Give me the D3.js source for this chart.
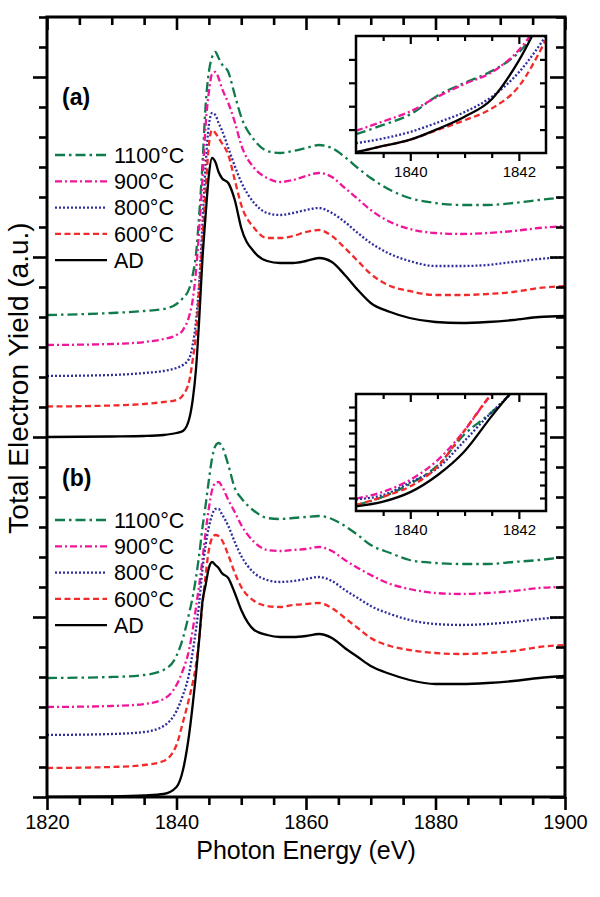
<!DOCTYPE html>
<html>
<head>
<meta charset="utf-8">
<script src="https://cdn.jsdelivr.net/npm/d3@7"></script>
<style>
  body { margin: 0; background: #fff; }
  svg text { font-family: "Liberation Sans", Arial, sans-serif; fill: #000; }
</style>
</head>
<body>
<svg id="chart" width="600" height="897"></svg>
<script>
// photon energy grid (eV)
const energy = [1820,1830,1835,1838,1840,1841,1842,1842.5,1843,1843.5,1844,1844.5,1845,1845.5,1846,1846.5,1847,1848,1849,1850,1852,1854,1856,1858,1860,1862,1864,1866,1868,1870,1873,1876,1880,1884,1888,1892,1896,1900];

// panel (a), total electron yield (a.u., offset)
const aAD   = [360,360.5,361,362,364,366,379,397,427,477,537,582,622,639,635,625,619,614,597,569,545,536,534,534,536,539,535,522,507,494,485,479,475,474,475,477,480,481];
const a600  = [390.5,391.5,393,395,397,402,417,437,462,507,557,607,652,667,664,659,654,642,617,592,569,559,559,561,565,567,561,549,536,523,511,506,502,502,503,505,509,511];
const a800  = [421,422,424,426,429,432,439,452,475,514,572,632,672,684,682,674,667,649,631,615,594,584,582,584,587,589,584,575,564,554,543,536,531,531,532,535,538,540];
const a900  = [452,453,455,458,462,467,482,497,525,567,617,672,705,723,725,719,709,694,675,652,629,619,615,617,621,624,620,609,598,587,575,568,564,563,564,566,569,571];
const a1100 = [482,484,486,488,493,499,509,522,542,582,632,692,725,740,745,739,733,725,702,680,657,646,644,646,649,652,649,640,629,619,607,599,594,592,592,594,597,600];

// panel (b)
const bAD   = [0,0.5,1.5,3,10,27,65,92,122,157,195,212,229,235,232,229,224,219,204,187,167,162,160,160,161,163,159,149,140,131,123,117,113,113,114,116,119,121];
const b600  = [29,30,32,36,52,75,100,114,132,159,192,222,247,259,262,261,257,242,224,210,196,191,190,192,193,194,189,179,169,159,151,147,144,143,144,146,150,152];
const b800  = [62,63,65,71,86,102,125,145,167,194,227,252,270,282,288,288,283,271,255,241,224,217,215,216,218,220,216,207,199,191,183,177,173,172,173,175,178,180];
const b900  = [90,91,93,98,112,127,149,167,189,212,237,265,289,307,314,315,311,297,285,272,255,247,246,247,248,250,246,237,229,222,213,208,204,203,204,206,209,210];
const b1100 = [119,120,122,127,141,159,185,200,219,242,269,292,317,339,351,354,351,332,309,299,286,279,278,279,280,281,278,271,262,252,244,237,234,233,233,235,237,240];

// inset (pre-edge zoom)
const insetEnergy = [1839,1839.5,1840,1840.5,1841,1841.5,1842,1842.5];
const iaAD   = [0.03,0.3,0.57,1.02,1.55,2.3,3.95,6.2];
const ia600  = [0.03,0.3,0.57,0.98,1.4,1.9,2.85,4.85];
const ia800  = [0.42,0.62,0.9,1.3,1.75,2.4,3.45,5.0];
const ia900  = [0.95,1.35,1.78,2.4,2.95,3.45,4.4,6.0];
const ia1100 = [0.8,1.2,1.65,2.45,3.0,3.5,4.3,5.8];
const ibAD   = [0.35,0.72,1.45,2.75,4.6,7.3,9.8,12];
const ib600  = [0.45,1.1,1.9,3.4,6.2,9.0,11,12];
const ib800  = [0.9,1.23,2.2,3.3,5.4,7.6,9.5,11];
const ib900  = [0.95,1.48,2.4,3.9,6.2,9.0,11,12];
const ib1100 = [0.45,1.1,2.1,3.5,5.9,7.6,9.6,11];

const seriesNames = ['1100°C', '900°C', '800°C', '600°C', 'AD'];
const seriesColors = ['#0f7a4a', '#f0169b', '#2e2e9e', '#f22a2a', '#000000'];
const seriesDash = ['10,4,2.5,4', '7,3,2,3', '2,2', '6,3.5', null];

const panelA = [a1100, a900, a800, a600, aAD];
const panelB = [b1100, b900, b800, b600, bAD];
const insetA = [ia1100, ia900, ia800, ia600, iaAD];
const insetB = [ib1100, ib900, ib800, ib600, ibAD];

const svg = d3.select('#chart');
const plotLeft = 47, plotRight = 565, plotTop = 17, plotBottom = 797;

const x = d3.scaleLinear().domain([1820, 1900]).range([plotLeft, plotRight]);
const y = d3.scaleLinear().domain([0, 780]).range([plotBottom, plotTop]);

svg.append('clipPath').attr('id', 'plotClip')
  .append('rect').attr('x', plotLeft).attr('y', plotTop)
  .attr('width', plotRight - plotLeft).attr('height', plotBottom - plotTop);

const line = d3.line()
  .x((d, i) => x(energy[i]))
  .y(d => y(d))
  .curve(d3.curveMonotoneX);

function drawSeries(g, list, lineGen) {
  list.forEach((vals, k) => {
    g.append('path')
      .datum(vals)
      .attr('d', lineGen)
      .attr('fill', 'none')
      .attr('stroke', seriesColors[k])
      .attr('stroke-width', 2.3)
      .attr('stroke-dasharray', seriesDash[k]);
  });
}

const curves = svg.append('g').attr('clip-path', 'url(#plotClip)');
drawSeries(curves, panelA, line);
drawSeries(curves, panelB, line);

// axes
const minorX = d3.range(1820, 1901, 5).filter(v => v % 20 !== 0);
const majorX = d3.range(1820, 1901, 20);
const minorY = d3.range(0, 781, 30).filter(v => v % 180 !== 0);
const majorY = d3.range(0, 781, 180);

function styleAxis(g) {
  g.select('.domain').remove();
  g.selectAll('line').attr('stroke', '#000').attr('stroke-width', 2.6);
  g.selectAll('text').style('font-size', '20px').attr('fill', '#000');
}

svg.append('g').attr('transform', `translate(0,${plotBottom})`)
  .call(d3.axisBottom(x).tickValues(minorX).tickSize(8).tickFormat('')).call(styleAxis);
svg.append('g').attr('transform', `translate(0,${plotBottom})`)
  .call(d3.axisBottom(x).tickValues(majorX).tickSize(13).tickPadding(5).tickFormat(d3.format('d'))).call(styleAxis);
svg.append('g').attr('transform', `translate(0,${plotTop})`)
  .call(d3.axisBottom(x).tickValues(minorX).tickSize(8).tickFormat('')).call(styleAxis);
svg.append('g').attr('transform', `translate(0,${plotTop})`)
  .call(d3.axisBottom(x).tickValues(majorX).tickSize(13).tickFormat('')).call(styleAxis);
svg.append('g').attr('transform', `translate(${plotLeft},0)`)
  .call(d3.axisLeft(y).tickValues(minorY).tickSize(8).tickFormat('')).call(styleAxis);
svg.append('g').attr('transform', `translate(${plotLeft},0)`)
  .call(d3.axisLeft(y).tickValues(majorY).tickSize(14).tickFormat('')).call(styleAxis);
svg.append('g').attr('transform', `translate(${plotRight},0)`)
  .call(d3.axisLeft(y).tickValues(minorY).tickSize(9).tickFormat('')).call(styleAxis);
svg.append('g').attr('transform', `translate(${plotRight},0)`)
  .call(d3.axisLeft(y).tickValues(majorY).tickSize(15).tickFormat('')).call(styleAxis);

svg.append('rect')
  .attr('x', plotLeft).attr('y', plotTop)
  .attr('width', plotRight - plotLeft).attr('height', plotBottom - plotTop)
  .attr('fill', 'none').attr('stroke', '#000').attr('stroke-width', 3);

// axis titles
svg.append('text')
  .attr('x', (plotLeft + plotRight) / 2).attr('y', 859)
  .attr('text-anchor', 'middle').style('font-size', '25px')
  .text('Photon Energy (eV)');
svg.append('text')
  .attr('transform', 'translate(28,378) rotate(-90)')
  .attr('text-anchor', 'middle').style('font-size', '28px')
  .text('Total Electron Yield (a.u.)');

// insets
const ix = d3.scaleLinear().domain([1839, 1842.5]).range([356, 546]);

function drawInset(id, vals, yMax, y0, y1) {
  const iy = d3.scaleLinear().domain([0, yMax]).range([y1, y0]);
  const x0 = ix.range()[0], x1 = ix.range()[1];
  const g = svg.append('g');
  g.append('rect').attr('x', x0).attr('y', y0)
    .attr('width', x1 - x0).attr('height', y1 - y0).attr('fill', '#fff');
  g.append('clipPath').attr('id', id)
    .append('rect').attr('x', x0).attr('y', y0)
    .attr('width', x1 - x0).attr('height', y1 - y0);
  const iline = d3.line()
    .x((d, i) => ix(insetEnergy[i]))
    .y(d => iy(d))
    .curve(d3.curveMonotoneX);
  drawSeries(g.append('g').attr('clip-path', `url(#${id})`), vals, iline);

  const ixMinor = [1839.5, 1840.5, 1841, 1841.5];
  const ixMajor = [1840, 1842];
  const iyTicks = d3.range(1, yMax, 1);
  function st(a) {
    a.select('.domain').remove();
    a.selectAll('line').attr('stroke', '#000').attr('stroke-width', 2.2);
    a.selectAll('text').style('font-size', '15px').attr('fill', '#000');
  }
  g.append('g').attr('transform', `translate(0,${y1})`)
    .call(d3.axisBottom(ix).tickValues(ixMinor).tickSize(5).tickFormat('')).call(st);
  g.append('g').attr('transform', `translate(0,${y1})`)
    .call(d3.axisBottom(ix).tickValues(ixMajor).tickSize(8).tickPadding(5).tickFormat(d3.format('d'))).call(st);
  g.append('g').attr('transform', `translate(0,${y0})`)
    .call(d3.axisBottom(ix).tickValues(ixMinor).tickSize(5).tickFormat('')).call(st);
  g.append('g').attr('transform', `translate(0,${y0})`)
    .call(d3.axisBottom(ix).tickValues(ixMajor).tickSize(8).tickFormat('')).call(st);
  g.append('g').attr('transform', `translate(${x0},0)`)
    .call(d3.axisLeft(iy).tickValues(iyTicks).tickSize(7).tickFormat('')).call(st);
  g.append('g').attr('transform', `translate(${x1},0)`)
    .call(d3.axisLeft(iy).tickValues(iyTicks).tickSize(6).tickFormat('')).call(st);
  g.append('rect').attr('x', x0).attr('y', y0)
    .attr('width', x1 - x0).attr('height', y1 - y0)
    .attr('fill', 'none').attr('stroke', '#000').attr('stroke-width', 2.5);
}

drawInset('insetClipA', insetA, 5, 36, 153);
drawInset('insetClipB', insetB, 9, 394, 511);

// legends and panel labels
function drawLegend(yStart, label, labelY) {
  const g = svg.append('g');
  seriesNames.forEach((name, k) => {
    const yy = yStart + k * 26.3;
    g.append('line')
      .attr('x1', 55).attr('x2', 107).attr('y1', yy).attr('y2', yy)
      .attr('stroke', seriesColors[k]).attr('stroke-width', 2.3)
      .attr('stroke-dasharray', seriesDash[k]);
    g.append('text')
      .attr('x', 114).attr('y', yy).attr('dy', '0.36em')
      .style('font-size', '21.5px')
      .text(name);
  });
  g.append('text')
    .attr('x', 62).attr('y', labelY).attr('dy', '0.36em')
    .style('font-size', '23px').style('font-weight', 'bold')
    .text(label);
}

drawLegend(155, '(a)', 97);
drawLegend(520, '(b)', 478);
</script>
</body>
</html>
